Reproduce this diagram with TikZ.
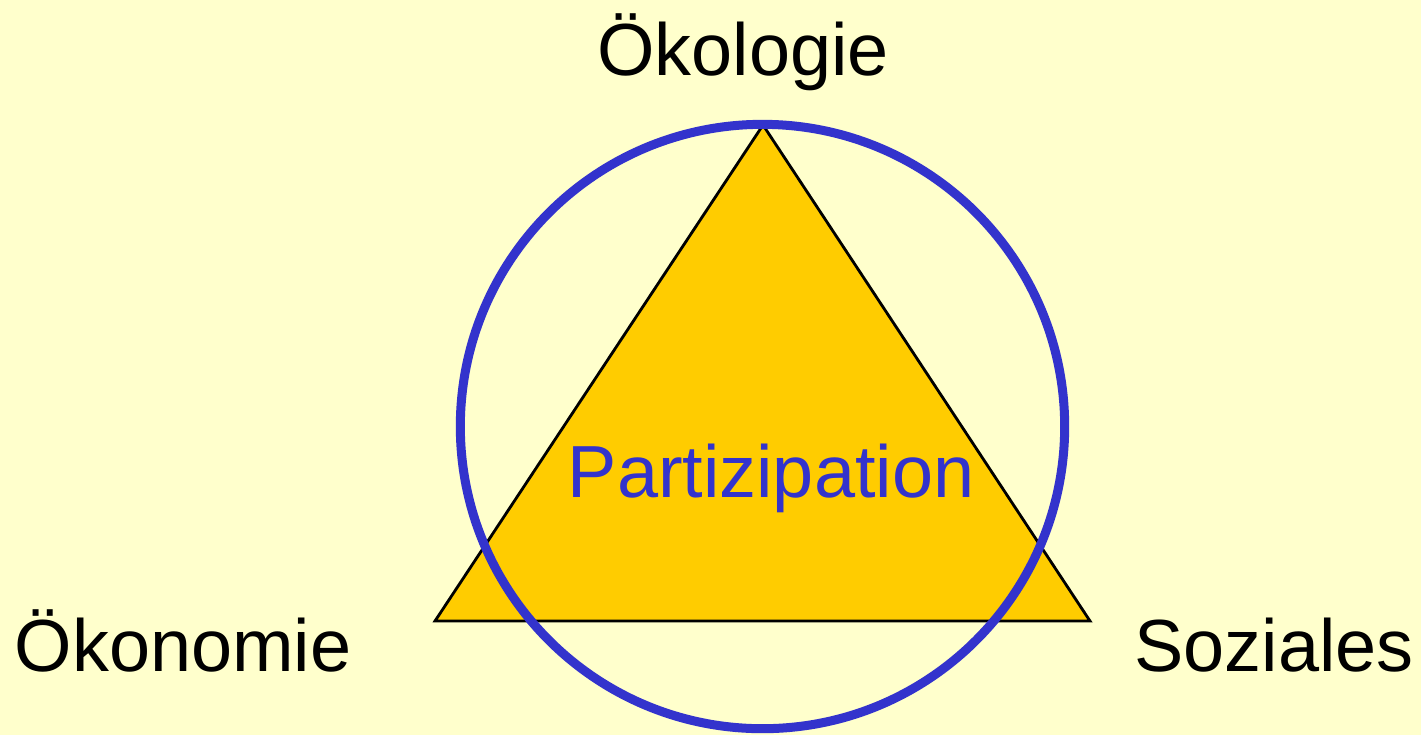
\documentclass[tikz,border=0pt]{standalone}
\usepackage{fontspec}
\setmainfont{Liberation Sans}
\definecolor{bgyellow}{HTML}{FFFFCC}
\definecolor{trifill}{HTML}{FFCC00}
\definecolor{ringblue}{HTML}{3333CC}
\begin{document}
\begin{tikzpicture}[x=0.01cm,y=-0.01cm,
  lbl/.style={anchor=base,inner sep=0pt,font=\fontsize{21}{25}\selectfont},
  blbl/.style={lbl,text=ringblue}]
\fill[bgyellow] (0,0) rectangle (1421,735);
\useasboundingbox (0,0) rectangle (1421,735);
\coordinate (top) at (763,125);
\coordinate (bl) at (435,621);
\coordinate (br) at (1090,621);
\filldraw[fill=trifill,draw=black,line width=0.8pt,line join=miter] (top) -- (bl) -- (br) -- cycle;
\draw[ringblue,line width=0.09cm] (762.5,426.5) circle[radius=3.02cm];
\node[lbl] (oekologie) at (743,75) {Ökologie};
\node[lbl] (oekonomie) at (183,671) {Ökonomie};
\node[lbl] (soziales) at (1274,671) {Soziales};
\node[blbl] (partizipation) at (771,497) {Partizipation};
\end{tikzpicture}
\end{document}
